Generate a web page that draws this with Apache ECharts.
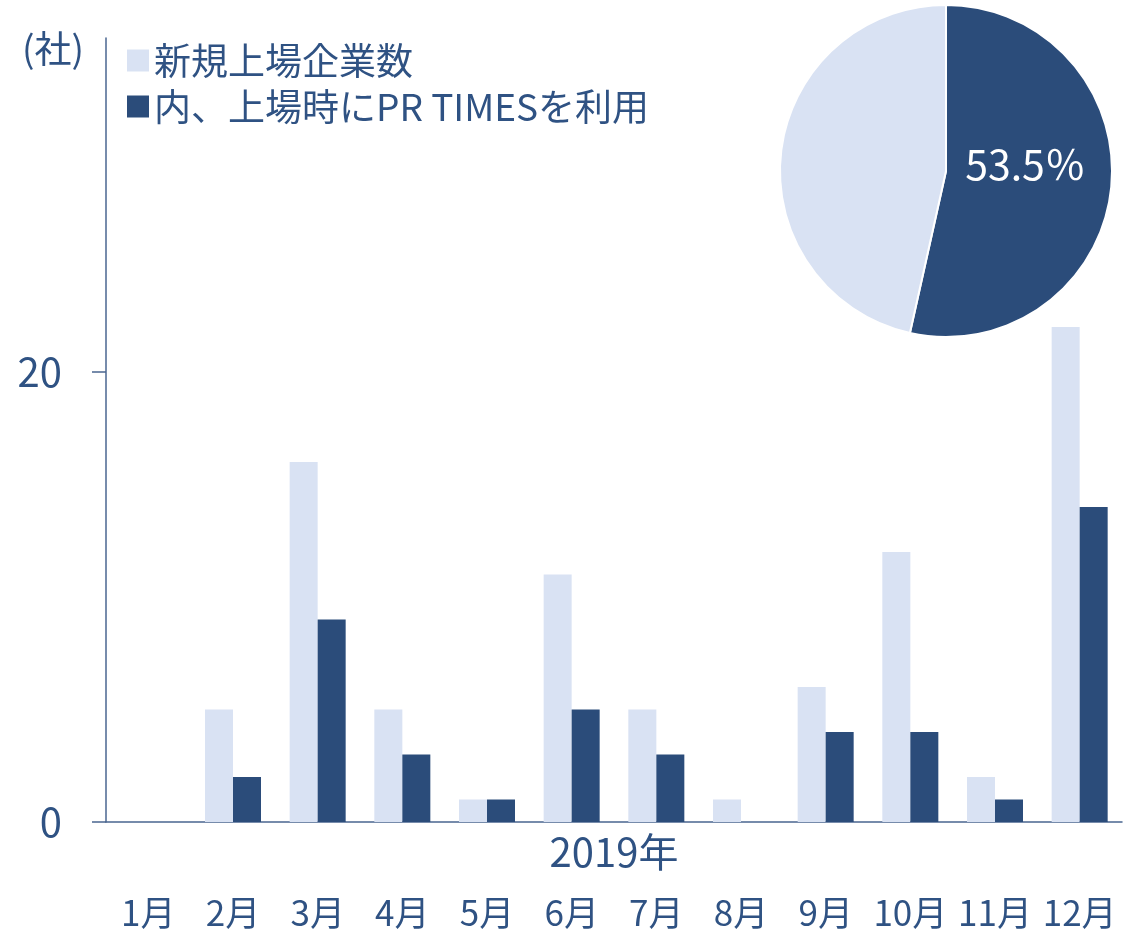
<!DOCTYPE html>
<html>
<head>
<meta charset="utf-8">
<script src="https://cdn.jsdelivr.net/npm/echarts@6/dist/echarts.min.js"></script>
<style>
  html, body { margin: 0; padding: 0; background: #fff; }
  #root { width: 1127px; height: 935px; }
</style>
</head>
<body>
<div id="root"></div>
<script>
// データ
const months = ['1月', '2月', '3月', '4月', '5月', '6月', '7月', '8月', '9月', '10月', '11月', '12月']
const newListings = [0, 5, 16, 5, 1, 11, 5, 1, 6, 12, 2, 22]
const usedPrTimes = [0, 2, 9, 3, 1, 5, 3, 0, 4, 4, 1, 14]
const pieValues = [46, 40]
const yTicks = [0, 20]

const DARK = '#2b4c7a'
const LIGHT = '#d9e2f3'
const TEXT = '#2f5283'
const FONT = '"Noto Sans CJK JP", "Noto Sans", sans-serif'

let myChart = echarts.init(document.querySelector('#root'))

let option = {
  animation: false,
  textStyle: { fontFamily: FONT },
  title: {
    text: '(社)',
    left: 17,
    top: 25,
    textStyle: { fontFamily: FONT, fontSize: 37, fontWeight: 'normal', color: TEXT }
  },
  legend: {
    orient: 'vertical',
    left: 122,
    top: 37,
    itemWidth: 22,
    itemHeight: 22,
    itemGap: 9,
    icon: 'rect',
    textStyle: { fontFamily: FONT, fontSize: 37, color: TEXT },
    data: ['新規上場企業数', '内、上場時にPR TIMESを利用']
  },
  grid: { left: 106, right: 5, top: 38, bottom: 113, outerBoundsMode: 'none' },
  xAxis: {
    type: 'category',
    data: months,
    name: '2019年',
    nameLocation: 'middle',
    nameGap: 10,
    nameMoveOverlap: false,
    nameTextStyle: { fontFamily: FONT, fontSize: 40, color: TEXT },
    axisLine: { lineStyle: { color: '#4a6690', width: 1.5 } },
    axisTick: { show: false },
    axisLabel: { interval: 0, margin: 73, fontFamily: FONT, fontSize: 35, color: TEXT }
  },
  yAxis: {
    type: 'value',
    min: 0,
    max: 34.84,
    splitLine: { show: false },
    axisLine: { show: true, lineStyle: { color: '#4a6690', width: 1.5 } },
    axisTick: { show: true, length: 14, customValues: yTicks, lineStyle: { color: '#4a6690', width: 1.5 } },
    axisLabel: { customValues: yTicks, margin: 44, fontFamily: FONT, fontSize: 40, color: TEXT }
  },
  series: [
    {
      name: '新規上場企業数',
      type: 'bar',
      data: newListings,
      barWidth: 28,
      barGap: '0%',
      itemStyle: { color: LIGHT }
    },
    {
      name: '内、上場時にPR TIMESを利用',
      type: 'bar',
      data: usedPrTimes,
      barWidth: 28,
      barGap: '0%',
      itemStyle: { color: DARK }
    },
    {
      type: 'pie',
      center: [946, 171],
      radius: 166,
      startAngle: 90,
      clockwise: true,
      percentPrecision: 1,
      itemStyle: { borderColor: '#fff', borderWidth: 2 },
      emphasis: { disabled: true },
      data: [
        {
          value: pieValues[0], name: 'used',
          itemStyle: { color: DARK },
          label: {
            show: true, position: 'inside',
            formatter: p => p.percent.toFixed(1) + '％',
            color: '#fff', fontFamily: FONT, fontSize: 41,
            offset: [-6, -16]
          }
        },
        { value: pieValues[1], name: 'other', itemStyle: { color: LIGHT }, label: { show: false } }
      ],
      labelLine: { show: false }
    }
  ]
}

myChart.setOption(option)
</script>
</body>
</html>
